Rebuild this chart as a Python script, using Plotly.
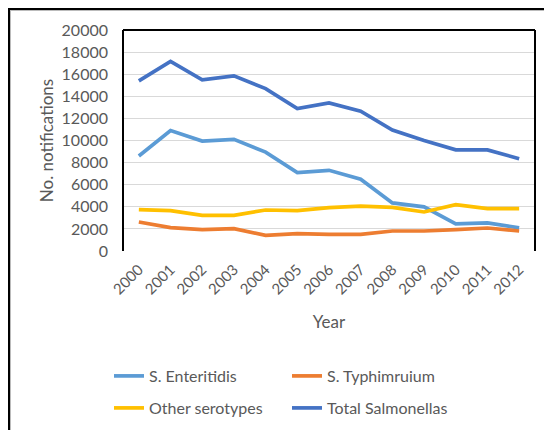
import plotly.graph_objects as go

years = ["2000", "2001", "2002", "2003", "2004", "2005", "2006",
         "2007", "2008", "2009", "2010", "2011", "2012"]
enteritidis = [8600, 10900, 9950, 10100, 8950, 7100, 7300, 6500, 4350, 4000, 2450, 2550, 2100]
typhimurium = [2620, 2110, 1930, 2020, 1420, 1570, 1510, 1510, 1810, 1810, 1930, 2080, 1810]
other = [3740, 3650, 3230, 3230, 3710, 3650, 3920, 4070, 3950, 3530, 4190, 3830, 3830]
total = [15400, 17150, 15500, 15850, 14700, 12900, 13400, 12650, 10950, 10000, 9150, 9150, 8350]

series = [
    ("S. Enteritidis", enteritidis, "#5B9BD5", "legend"),
    ("S. Typhimruium", typhimurium, "#ED7D31", "legend"),
    ("Other serotypes", other, "#FFC000", "legend2"),
    ("Total Salmonellas", total, "#4472C4", "legend2"),
]

# figure sits inside the page's 8px body margin
W, H = 544, 422
L, R, T, B = 115, 527, 22, 243

fig = go.Figure()
for name, vals, col, lg in series:
    fig.add_trace(go.Scatter(x=years, y=vals, name=name, mode="lines", legend=lg,
                             line=dict(color=col, width=3.7)))

font = "Lato, 'Open Sans', sans-serif"
grey = "#595959"

def px(x):
    return (x - L) / (R - L)

def py(y):
    return (B - y) / (B - T)

shapes = [
    # plot area border: top, left, right
    dict(type="line", xref="paper", yref="paper", x0=0, x1=1, y0=1, y1=1,
         line=dict(color="black", width=2)),
    dict(type="line", xref="paper", yref="paper", x0=0, x1=0, y0=0, y1=1,
         line=dict(color="black", width=2)),
    dict(type="line", xref="paper", yref="paper", x0=1, x1=1, y0=0, y1=1,
         line=dict(color="black", width=2)),
    # outer frame: left and top
    dict(type="line", xref="paper", yref="paper", x0=px(1), x1=px(1), y0=py(0), y1=py(430),
         line=dict(color="black", width=2)),
    dict(type="line", xref="paper", yref="paper", x0=px(2.5), x1=px(2.5), y0=py(2), y1=py(430),
         line=dict(color="#BBBBBB", width=1)),
    dict(type="line", xref="paper", yref="paper", x0=px(0), x1=px(550), y0=py(1), y1=py(1),
         line=dict(color="black", width=2)),
    dict(type="line", xref="paper", yref="paper", x0=px(2), x1=px(550), y0=py(2.5), y1=py(2.5),
         line=dict(color="#BBBBBB", width=1)),
]

legend_common = dict(orientation="h", xanchor="left", yanchor="top",
                     entrywidth=133, entrywidthmode="pixels",
                     font=dict(family=font, size=16, color=grey),
                     bgcolor="rgba(0,0,0,0)", traceorder="normal")

fig.update_layout(
    width=W, height=H,
    margin=dict(l=L, r=W - R, t=T, b=H - B, pad=0, autoexpand=False),
    paper_bgcolor="white", plot_bgcolor="white",
    font=dict(family=font, color=grey, size=16),
    showlegend=True,
    legend=dict(x=px(101), y=py(351), **legend_common),
    legend2=dict(x=px(101), y=py(383), **legend_common),
    xaxis=dict(type="category", range=[-0.5, 12.5], tickangle=-45,
               showgrid=False, showline=False, zeroline=False, ticks="",
               ticklabelstandoff=6,
               tickfont=dict(family=font, size=15, color=grey),
               title=dict(text="Year", standoff=19,
                          font=dict(family=font, size=17, color=grey))),
    yaxis=dict(range=[0, 20000], dtick=2000, tickformat="d", showgrid=True,
               gridcolor="#D9D9D9", gridwidth=1, zeroline=False, showline=False,
               ticks="", ticklabelstandoff=14,
               tickfont=dict(family=font, size=16, color=grey),
               title=dict(text="No. notifications", standoff=3,
                          font=dict(family=font, size=17, color=grey))),
    shapes=shapes,
)

fig.write_html("out.html")
